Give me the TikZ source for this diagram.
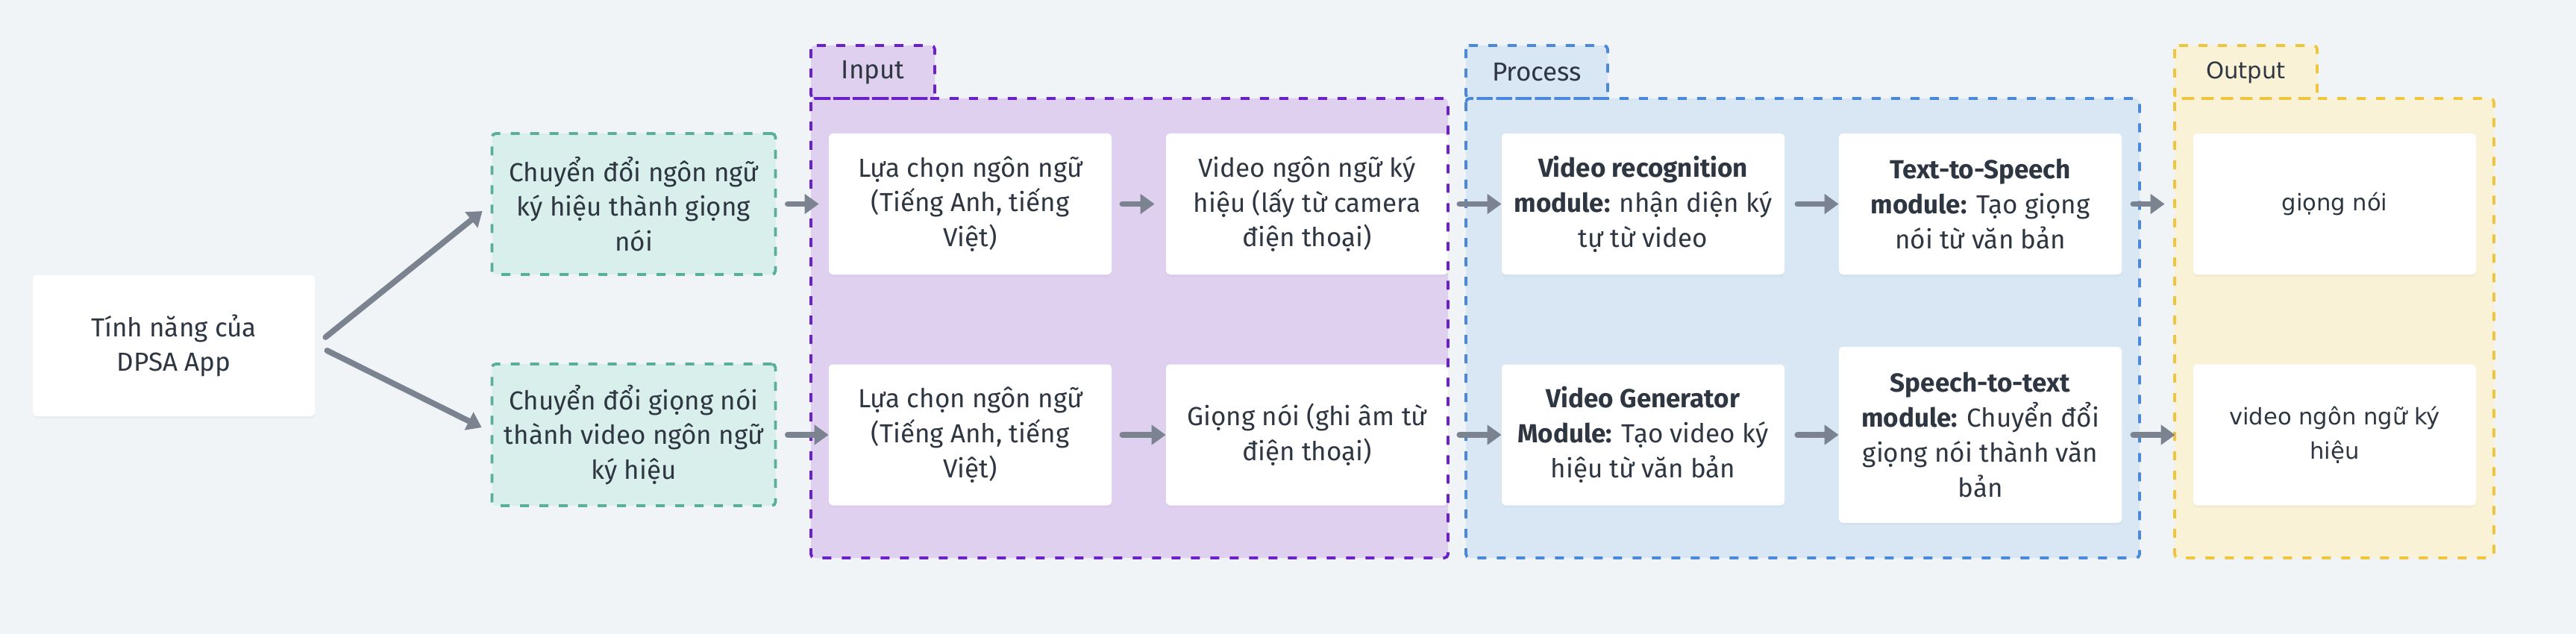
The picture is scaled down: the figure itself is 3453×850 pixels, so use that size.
\documentclass[tikz,border=0pt]{standalone}
\usepackage{fontspec}
\setmainfont{Fira Sans}
\newfontfamily\outfont{DejaVu Sans}
\usetikzlibrary{arrows.meta,shadows}
\definecolor{bgc}{HTML}{F0F4F7}
\definecolor{txtc}{HTML}{2E3641}
\definecolor{arrc}{HTML}{7A838F}
\definecolor{grfill}{HTML}{D9EFEB}
\definecolor{grline}{HTML}{5AAF9C}
\definecolor{pufill}{HTML}{DFD0F0}
\definecolor{puline}{HTML}{6B21C8}
\definecolor{blfill}{HTML}{D9E7F4}
\definecolor{blline}{HTML}{4A88DA}
\definecolor{yefill}{HTML}{FAF2D6}
\definecolor{yeline}{HTML}{F0C53E}
\tikzset{
  wbox/.style={fill=white, rounded corners=2.5pt, minimum width=189.5pt, minimum height=94.5pt,
    align=center, text=txtc, inner sep=0pt,
    drop shadow={shadow xshift=0pt, shadow yshift=-1.5pt, opacity=0.06}},
  gbox/.style={fill=grfill, draw=grline, dash pattern=on 6pt off 7pt, line width=1.9pt,
    rounded corners=2.5pt, minimum width=190pt, minimum height=94.5pt, align=center,
    text=txtc, inner sep=0pt},
  arr/.style={draw=arrc, line width=3.9pt, line cap=round, -{Triangle[length=9.5pt,width=13pt]}},
  grp/.style={dash pattern=on 6pt off 7pt, line width=1.9pt, rounded corners=2.5pt},
  outtext/.style={font=\outfont\fontsize{15.3}{23.4}\selectfont}
}
\begin{document}
\begin{tikzpicture}[x=0.5pt,y=-0.5pt,font=\fontsize{17.5}{23.4}\selectfont]
\fill[bgc] (0,0) rectangle (3453,850);
\useasboundingbox (0,0) rectangle (3453,850);

% group fills
\path[grp, fill=pufill] (1087,132) rectangle (1941,748);
\path[grp, fill=pufill] (1087,61) rectangle (1253,132);
\path[grp, fill=blfill] (1965,132) rectangle (2868,748);
\path[grp, fill=blfill] (1965,61) rectangle (2155,132);
\path[grp, fill=yefill] (2915,132) rectangle (3343,748);
\path[grp, fill=yefill] (2915,61) rectangle (3106,132);

% nodes
\node[wbox, minimum width=189pt] (main) at (233,463.5) {Tính năng của\\DPSA App};
\node[gbox] (g1) at (849.5,273.5) {Chuyển đổi ngôn ngữ\\ký hiệu thành giọng\\nói};
\node[gbox, minimum height=95pt] (g2) at (849.5,583) {Chuyển đổi giọng nói\\thành video ngôn ngữ\\ký hiệu};

\node[wbox] (l1) at (1300.5,273.5) {Lựa chọn ngôn ngữ\\(Tiếng Anh, tiếng\\Việt)};
\node[wbox] (l2) at (1300.5,583) {Lựa chọn ngôn ngữ\\(Tiếng Anh, tiếng\\Việt)};
\node[wbox, minimum width=189pt] (v1) at (1752,273.5) {Video ngôn ngữ ký\\hiệu (lấy từ camera\\điện thoại)};
\node[wbox, minimum width=189pt] (v2) at (1752,583) {Giọng nói (ghi âm từ\\điện thoại)};

\node[wbox] (vr) at (2202.5,273.5) {\textbf{Video recognition}\\\textbf{module:} nhận diện ký\\tự từ video};
\node[wbox] (vg) at (2202.5,583) {\textbf{Video Generator}\\\textbf{Module:} Tạo video ký\\hiệu từ văn bản};
\node[wbox] (tts) at (2654.5,273.5) {\textbf{Text-to-Speech}\\\textbf{module:} Tạo giọng\\nói từ văn bản};
\node[wbox, minimum height=118pt] (stt) at (2654.5,583) {\textbf{Speech-to-text}\\\textbf{module:} Chuyển đổi\\giọng nói thành văn\\bản};

\node[wbox, outtext] (o1) at (3129.5,273.5) {giọng nói};
\node[wbox, outtext] (o2) at (3129.5,583) {video ngôn ngữ ký\\hiệu};

% group borders
\draw[grp, draw=puline] (1087,132) rectangle (1941,748);
\draw[grp, draw=puline] (1087,61) rectangle (1253,132);
\draw[grp, draw=blline] (1965,132) rectangle (2868,748);
\draw[grp, draw=blline] (1965,61) rectangle (2155,132);
\draw[grp, draw=yeline] (2915,132) rectangle (3343,748);
\draw[grp, draw=yeline] (2915,61) rectangle (3106,132);

\node[text=txtc] (tin) at (1170,97) {Input};
\node[text=txtc] (tpr) at (2060,97) {Process};
\node[text=txtc, outtext] (tout) at (3010.5,97) {Output};

% arrows
\draw[arr] ([xshift=7pt,yshift=5.75pt]main.east) -- ([xshift=-5.5pt,yshift=-4.75pt]g1.west);
\draw[arr] ([xshift=8pt,yshift=-3.25pt]main.east) -- ([xshift=-6pt,yshift=5pt]g2.west);

\draw[arr] ([xshift=7.25pt]g1.east) -- ([xshift=-6.5pt]l1.west);
\draw[arr] ([xshift=7pt]l1.east) -- ([xshift=-7.5pt]v1.west);
\draw[arr] ([xshift=7.5pt]v1.east) -- (vr.west);
\draw[arr] ([xshift=8.5pt]vr.east) -- (tts.west);
\draw[arr] ([xshift=7.5pt]tts.east) -- ([xshift=-19pt]o1.west);

\draw[arr] ([xshift=7.25pt]g2.east) -- (l2.west);
\draw[arr] ([xshift=7pt]l2.east) -- (v2.west);
\draw[arr] ([xshift=7.5pt]v2.east) -- (vg.west);
\draw[arr] ([xshift=8.5pt]vg.east) -- (stt.west);
\draw[arr] ([xshift=7.5pt]stt.east) -- ([xshift=-12pt]o2.west);
\end{tikzpicture}
\end{document}
